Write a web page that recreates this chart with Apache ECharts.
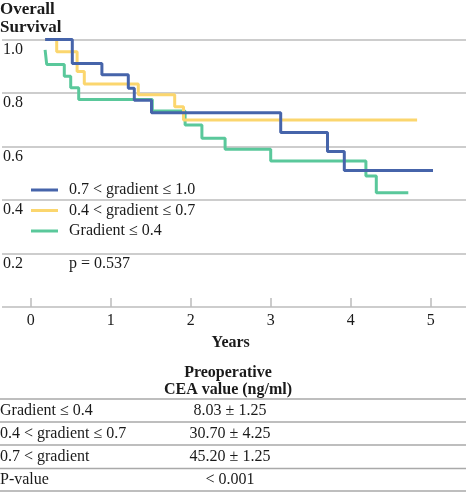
<!DOCTYPE html>
<html>
<head>
<meta charset="utf-8">
<script src="https://cdn.jsdelivr.net/npm/echarts@6/dist/echarts.min.js"></script>
<style>
html,body{margin:0;padding:0;background:#fff;}
#chart{width:466px;height:492px;}
</style>
</head>
<body>
<div id="chart"></div>
<script>
// ---- Data ----
const seriesNames = ['0.7 < gradient \u2264 1.0', '0.4 < gradient \u2264 0.7', 'Gradient \u2264 0.4'];
// Kaplan-Meier steps: time (years) and survival after each drop
const highTimes = [0.18, 0.52, 0.89, 1.22, 1.295, 1.51, 3.125, 3.71, 3.92, 5.05];
const highSurv  = [1.0, 0.91, 0.868, 0.818, 0.773, 0.726, 0.652, 0.581, 0.51, 0.51];
const midTimes  = [0.18, 0.325, 0.58, 0.67, 1.345, 1.80, 1.91, 4.83];
const midSurv   = [1.0, 0.954, 0.88, 0.834, 0.793, 0.749, 0.699, 0.699];
const lowTimes  = [0.18, 0.2, 0.42, 0.50, 0.60, 1.52, 1.93, 2.14, 2.43, 3.0, 4.19, 4.32, 4.72];
const lowSurv   = [0.961, 0.907, 0.863, 0.82, 0.776, 0.733, 0.68, 0.631, 0.59, 0.546, 0.49, 0.427, 0.427];
const xTicks = [0, 1, 2, 3, 4, 5];
const yTicks = [0, 0.2, 0.4, 0.6, 0.8, 1.0];
const pText = 'p = 0.537';
const yTitle = 'Overall\nSurvival';
const xTitle = 'Years';
const tableHeader = ['Preoperative', 'CEA value (ng/ml)'];
const tableRows = ['Gradient \u2264 0.4', '0.4 < gradient \u2264 0.7', '0.7 < gradient', 'P-value'];
const tableValues = ['8.03 \u00b1 1.25', '30.70 \u00b1 4.25', '45.20 \u00b1 1.25', '< 0.001'];

// ---- Styles ----
const FONT = '"Liberation Serif", "Times New Roman", serif';
const TXT = '#1a1a1a';
const GRID = '#bcbcbc';
const colors = ['#4664aa', '#fbd66e', '#5ac89b'];

const W = 466;
const PLOT_TOP = 39.5, PLOT_H = 267.5;
const X0 = 30.7, XSPAN = 80; // px for year 0, px per year

function pairs(t, s) { return t.map((v, i) => [v, s[i]]); }

const chart = echarts.init(document.getElementById('chart'), null, {renderer: 'canvas'});

// table graphics
const lineYs = [399, 422, 445, 468.5, 491];
const graphics = [];
graphics.push({type: 'text', left: 69, top: 256, style: {text: pText, font: '16px ' + FONT, fill: TXT}});
tableHeader.forEach((h, i) => {
  graphics.push({type: 'text', x: 228, y: 373 + i * 17, style: {text: h, font: 'bold 16px ' + FONT, fill: TXT, align: 'center', verticalAlign: 'middle'}});
});
lineYs.forEach(y => {
  graphics.push({type: 'line', shape: {x1: 0, y1: y, x2: W, y2: y}, style: {stroke: '#a9a9a9', lineWidth: 1.5}});
});
tableRows.forEach((r, i) => {
  const cy = (lineYs[i] + lineYs[i + 1]) / 2 + 0.5;
  graphics.push({type: 'text', x: 0, y: cy, style: {text: r, font: '16px ' + FONT, fill: TXT, align: 'left', verticalAlign: 'middle'}});
  graphics.push({type: 'text', x: 230, y: cy, style: {text: tableValues[i], font: '16px ' + FONT, fill: TXT, align: 'center', verticalAlign: 'middle'}});
});

const option = {
  animation: false,
  backgroundColor: '#fff',
  title: {
    text: yTitle, left: 0, top: 1, padding: 0,
    textStyle: {fontFamily: FONT, fontSize: 17, fontWeight: 'bold', lineHeight: 18, color: TXT}
  },
  legend: {
    orient: 'vertical', left: 31, top: 182, padding: 0,
    itemWidth: 27, itemHeight: 3, itemGap: 4.5, icon: 'rect',
    data: seriesNames,
    textStyle: {fontFamily: FONT, fontSize: 16, lineHeight: 16, color: TXT, padding: [0, 0, 0, 6]}
  },
  grid: [
    {left: 0, right: 0, top: PLOT_TOP, height: PLOT_H},
    {left: X0, right: W - (X0 + 5 * XSPAN), top: PLOT_TOP, height: PLOT_H}
  ],
  xAxis: [
    {gridIndex: 0, type: 'value', min: 0, max: 1, show: false},
    {gridIndex: 1, type: 'value', min: xTicks[0], max: xTicks[xTicks.length - 1], interval: 1,
     axisLine: {show: false},
     axisTick: {show: true, inside: true, length: 9, lineStyle: {color: GRID, width: 1.5}},
     splitLine: {show: false},
     axisLabel: {margin: 6, fontFamily: FONT, fontSize: 16, color: TXT},
     name: xTitle, nameLocation: 'middle', nameGap: 28,
     nameTextStyle: {fontFamily: FONT, fontSize: 16, fontWeight: 'bold', color: TXT}}
  ],
  yAxis: [
    {gridIndex: 0, type: 'value', min: yTicks[0], max: yTicks[yTicks.length - 1], interval: 0.2,
     axisLine: {show: false}, axisTick: {show: false},
     splitLine: {show: true, lineStyle: {color: GRID, width: 1.5}},
     axisLabel: {inside: true, margin: 1, align: 'left', verticalAlign: 'top', padding: [2, 0, 0, 0],
       fontFamily: FONT, fontSize: 16, color: TXT,
       formatter: v => (v === 0 ? '' : v.toFixed(1))}},
    {gridIndex: 1, type: 'value', min: 0, max: 1, show: false}
  ],
  series: [
    {name: seriesNames[2], type: 'line', xAxisIndex: 1, yAxisIndex: 1, step: 'end', symbol: 'none',
     data: pairs(lowTimes, lowSurv), lineStyle: {color: colors[2], width: 3}, itemStyle: {color: colors[2]}},
    {name: seriesNames[1], type: 'line', xAxisIndex: 1, yAxisIndex: 1, step: 'end', symbol: 'none',
     data: pairs(midTimes, midSurv), lineStyle: {color: colors[1], width: 3}, itemStyle: {color: colors[1]}},
    {name: seriesNames[0], type: 'line', xAxisIndex: 1, yAxisIndex: 1, step: 'end', symbol: 'none',
     data: pairs(highTimes, highSurv), lineStyle: {color: colors[0], width: 3}, itemStyle: {color: colors[0]}}
  ],
  graphic: graphics
};
chart.setOption(option);
</script>
</body>
</html>
